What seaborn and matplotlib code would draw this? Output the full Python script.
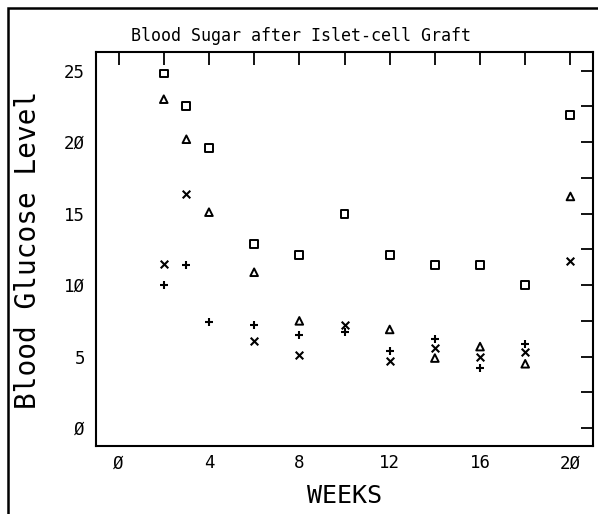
import numpy as np
import pandas as pd
import seaborn as sns
import matplotlib
matplotlib.use("Agg")
import matplotlib.pyplot as plt
from matplotlib.patches import Rectangle

# Blood glucose readings per week for four graft recipients
weeks_sq = [2, 3, 4, 6, 8, 10, 12, 14, 16, 18, 20]
glucose_sq = [24.8, 22.5, 19.6, 12.9, 12.1, 15.0, 12.1, 11.4, 11.4, 10.0, 21.9]

weeks_tri = [2, 3, 4, 6, 8, 12, 14, 16, 18, 20]
glucose_tri = [23.0, 20.2, 15.1, 10.9, 7.5, 6.9, 4.9, 5.7, 4.5, 16.2]

weeks_x = [2, 3, 6, 8, 10, 12, 14, 16, 18, 20]
glucose_x = [11.5, 16.4, 6.1, 5.1, 7.2, 4.7, 5.6, 5.0, 5.3, 11.7]

weeks_plus = [2, 3, 4, 6, 8, 10, 12, 14, 16, 18]
glucose_plus = [10.0, 11.4, 7.4, 7.2, 6.5, 6.7, 5.4, 6.2, 4.2, 5.9]

x_ticks = [0, 4, 8, 12, 16, 20]
y_ticks = [0, 5, 10, 15, 20, 25]

frames = []
for name, w, g in [("sq", weeks_sq, glucose_sq), ("tri", weeks_tri, glucose_tri),
                   ("x", weeks_x, glucose_x), ("plus", weeks_plus, glucose_plus)]:
    frames.append(pd.DataFrame({"week": w, "glucose": g, "patient": name}))
df = pd.concat(frames, ignore_index=True)

sns.set_theme(style="white")
plt.rcParams["font.family"] = ["DejaVu Sans Mono"]
plt.rcParams["text.color"] = "black"


def plotter_label(v):
    # plotter style slashed zero
    return str(int(v)).replace("0", "\u00d8")


W, H = 598, 514
fig = plt.figure(figsize=(W / 100, H / 100), dpi=100)
ax = fig.add_axes([96 / W, 1 - 446 / H, (593 - 96) / W, (446 - 52) / H])

styles = {
    "sq": dict(marker="s", s=32, facecolor="none", edgecolor="black", linewidth=1.4),
    "tri": dict(marker="^", s=30, facecolor="none", edgecolor="black", linewidth=1.4),
    "x": dict(marker="x", s=30, color="black", linewidth=1.5),
    "plus": dict(marker="+", s=36, color="black", linewidth=1.5),
}
for name, kw in styles.items():
    sub = df[df["patient"] == name]
    sns.scatterplot(data=sub, x="week", y="glucose", ax=ax, legend=False, **kw)

ax.set_xlim(-1, 21)
ax.set_ylim(-1.25, 26.3)

# ticks every 2 weeks / 2.5 units, labelled every 4 weeks / 5 units
xt = np.arange(0, 21, 2)
yt = np.arange(0, 26, 2.5)
ax.set_xticks(xt)
ax.set_xticklabels([plotter_label(t) if t in x_ticks else "" for t in xt])
ax.set_yticks(yt)
ax.set_yticklabels([plotter_label(t) if t in y_ticks else "" for t in yt])
ax.tick_params(axis="both", direction="in", length=9, width=1.3, top=True, right=True,
               labelsize=12.5, colors="black")
ax.tick_params(axis="x", pad=6)
ax.tick_params(axis="y", pad=8)
for sp in ax.spines.values():
    sp.set_linewidth(1.5)
    sp.set_color("black")

ax.set_xlabel("")
ax.set_ylabel("")
fig.text(345 / W, 1 - 496 / H, "WEEKS", ha="center", va="center", fontsize=18,
         color="black")
fig.text(28 / W, 1 - 250 / H, "Blood Glucose Level", ha="center", va="center",
         rotation=90, fontsize=20, color="black")
fig.text(301 / W, 1 - 36 / H, "Blood Sugar after Islet-cell Graft", ha="center",
         va="center", fontsize=12, color="black")

# outer frame around the whole figure
fig.patches.append(Rectangle((8 / W, -0.1), 1.2, 1.1 - 8 / H, transform=fig.transFigure,
                             fill=False, edgecolor="black", linewidth=1.8, clip_on=False))

fig.savefig("out.png", dpi=100)
